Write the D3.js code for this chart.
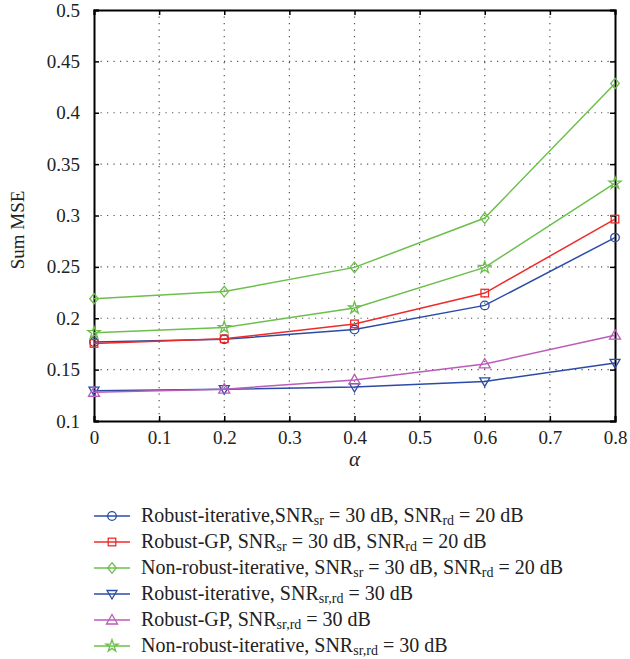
<!DOCTYPE html>
<html>
<head>
<meta charset="utf-8">
<script src="https://cdn.jsdelivr.net/npm/d3@7"></script>
<style>
  body { margin: 0; background: #fff; }
  svg text { font-family: "Liberation Serif", "DejaVu Serif", serif; fill: #222; }
</style>
</head>
<body>
<svg id="chart" width="630" height="659"></svg>
<script>
// data
const alphas = [0, 0.2, 0.4, 0.6, 0.8];
const robustIter3020 = [0.177, 0.1795, 0.189, 0.2125, 0.2785];
const robustGP3020 = [0.1755, 0.18, 0.1945, 0.2245, 0.2965];
const nonRobust3020 = [0.219, 0.226, 0.2495, 0.2975, 0.4285];
const robustIter30 = [0.1295, 0.131, 0.133, 0.1385, 0.1565];
const robustGP30 = [0.128, 0.131, 0.14, 0.1555, 0.1835];
const nonRobust30 = [0.186, 0.191, 0.21, 0.2495, 0.3315];

const xTicks = [0, 0.1, 0.2, 0.3, 0.4, 0.5, 0.6, 0.7, 0.8];
const yTicks = [0.1, 0.15, 0.2, 0.25, 0.3, 0.35, 0.4, 0.45, 0.5];

const series = [
    { values: robustIter3020, color: "#2b4ba6", marker: "circle",
      label: [["Robust-iterative,SNR"], ["sr", 1], [" = 30 dB, SNR"], ["rd", 1], [" = 20 dB"]] },
    { values: robustGP3020, color: "#ee2b2b", marker: "square",
      label: [["Robust-GP, SNR"], ["sr", 1], [" = 30 dB, SNR"], ["rd", 1], [" = 20 dB"]] },
    { values: nonRobust3020, color: "#6cbf4b", marker: "diamond",
      label: [["Non-robust-iterative, SNR"], ["sr", 1], [" = 30 dB, SNR"], ["rd", 1], [" = 20 dB"]] },
    { values: robustIter30, color: "#2b4ba6", marker: "tridown",
      label: [["Robust-iterative, SNR"], ["sr,rd", 1], [" = 30 dB"]] },
    { values: robustGP30, color: "#bb5cb8", marker: "triup",
      label: [["Robust-GP, SNR"], ["sr,rd", 1], [" = 30 dB"]] },
    { values: nonRobust30, color: "#6cbf4b", marker: "star",
      label: [["Non-robust-iterative, SNR"], ["sr,rd", 1], [" = 30 dB"]] }
];

const svg = d3.select("#chart");
const margin = { left: 94, right: 15, top: 10, bottom: 238 };
const width = 630, height = 659;

const x = d3.scaleLinear().domain([0, 0.8]).range([margin.left, width - margin.right]);
const y = d3.scaleLinear().domain([0.1, 0.5]).range([height - margin.bottom, margin.top]);

// dotted grid
const grid = svg.append("g");
grid.selectAll("line.v")
    .data(xTicks.slice(1, -1))
    .enter().append("line")
    .attr("x1", d => x(d)).attr("x2", d => x(d))
    .attr("y1", y(0.5)).attr("y2", y(0.1))
    .attr("stroke", "#555").attr("stroke-width", 1.2)
    .attr("stroke-dasharray", "1.2,5.3");
grid.selectAll("line.h")
    .data(yTicks.slice(1, -1))
    .enter().append("line")
    .attr("y1", d => y(d)).attr("y2", d => y(d))
    .attr("x1", x(0)).attr("x2", x(0.8))
    .attr("stroke", "#555").attr("stroke-width", 1.2)
    .attr("stroke-dasharray", "1.2,5.3");

// axes with inward ticks
const tickFmt = d => d3.format("")(+d.toFixed(2));
const axB = svg.append("g").attr("transform", `translate(0,${y(0.1)})`)
    .call(d3.axisBottom(x).tickValues(xTicks).tickSize(-5).tickPadding(10).tickFormat(tickFmt));
const axT = svg.append("g").attr("transform", `translate(0,${y(0.5)})`)
    .call(d3.axisTop(x).tickValues(xTicks).tickSize(-5).tickFormat(""));
const axL = svg.append("g").attr("transform", `translate(${x(0)},0)`)
    .call(d3.axisLeft(y).tickValues(yTicks).tickSize(-5).tickPadding(14).tickFormat(tickFmt));
const axR = svg.append("g").attr("transform", `translate(${x(0.8)},0)`)
    .call(d3.axisRight(y).tickValues(yTicks).tickSize(-5).tickFormat(""));

[axB, axT, axL, axR].forEach(a => {
    a.attr("font-family", null);
    a.select(".domain").attr("stroke", "#000").attr("stroke-width", 2);
    a.selectAll(".tick line").attr("stroke", "#000").attr("stroke-width", 1.5);
    a.selectAll(".tick text").attr("font-size", 19).attr("fill", "#222");
});

svg.append("text")
    .attr("transform", `translate(24,230) rotate(-90)`)
    .attr("text-anchor", "middle")
    .attr("font-size", 19)
    .text("Sum MSE");

svg.append("text")
    .attr("x", x(0.4)).attr("y", 466)
    .attr("text-anchor", "middle")
    .attr("font-size", 21)
    .attr("font-style", "italic")
    .text("α");

// markers
function drawMarker(g, type, color) {
    const sw = 1.3;
    if (type === "circle") {
        g.append("circle").attr("r", 4.3).attr("fill", "none").attr("stroke", color).attr("stroke-width", sw);
    } else if (type === "square") {
        g.append("rect").attr("x", -3.8).attr("y", -3.8).attr("width", 7.6).attr("height", 7.6)
            .attr("fill", "none").attr("stroke", color).attr("stroke-width", sw);
    } else if (type === "diamond") {
        g.append("path").attr("d", "M0,-5.3L4.3,0L0,5.3L-4.3,0Z")
            .attr("fill", "none").attr("stroke", color).attr("stroke-width", sw);
    } else if (type === "tridown") {
        g.append("path").attr("d", "M-5,-3.5L5,-3.5L0,5Z")
            .attr("fill", "none").attr("stroke", color).attr("stroke-width", sw);
    } else if (type === "triup") {
        g.append("path").attr("d", "M-5.5,4L5.5,4L0,-5.5Z")
            .attr("fill", "none").attr("stroke", color).attr("stroke-width", sw);
    } else if (type === "star") {
        g.append("path").attr("d", d3.symbol().type(d3.symbolStar).size(45)())
            .attr("fill", "none").attr("stroke", color).attr("stroke-width", sw);
    }
}

const line = d3.line().x((d, i) => x(alphas[i])).y(d => y(d));
const plot = svg.append("g");
series.forEach(s => {
    plot.append("path")
        .datum(s.values)
        .attr("d", line)
        .attr("fill", "none")
        .attr("stroke", s.color)
        .attr("stroke-width", 1.5);
    s.values.forEach((v, i) => {
        const g = plot.append("g").attr("transform", `translate(${x(alphas[i])},${y(v)})`);
        drawMarker(g, s.marker, s.color);
    });
});

// legend
const legend = svg.append("g");
series.forEach((s, i) => {
    const ly = 516 + i * 26;
    const g = legend.append("g").attr("transform", `translate(0,${ly})`);
    g.append("line").attr("x1", 94).attr("x2", 130).attr("y1", 0).attr("y2", 0)
        .attr("stroke", s.color).attr("stroke-width", 1.5);
    const m = g.append("g").attr("transform", "translate(112,0)");
    drawMarker(m, s.marker, s.color);
    const t = g.append("text").attr("x", 141).attr("y", 6).attr("font-size", 20);
    s.label.forEach(part => {
        if (part[1]) {
            t.append("tspan").attr("font-size", 14).attr("dy", 3).text(part[0]);
        } else {
            const ts = t.append("tspan").text(part[0]);
            if (part !== s.label[0]) ts.attr("dy", -3);
        }
    });
});
</script>
</body>
</html>
